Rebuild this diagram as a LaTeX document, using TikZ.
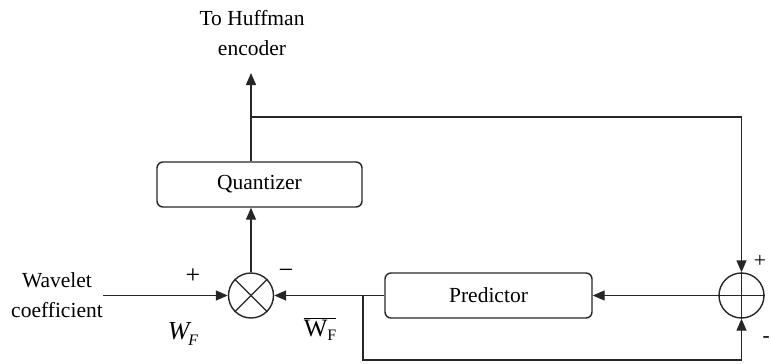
\documentclass[tikz,border=0pt]{standalone}
\usepackage{fontspec}
\setmainfont{Liberation Serif}
\usetikzlibrary{arrows.meta}
\begin{document}
\begin{tikzpicture}[x=1pt,y=-1pt,
  line/.style={line width=1.4pt, draw=black!85},
  arr/.style={line, -{Triangle[length=12pt,width=10pt]}},
  blockbox/.style={line, rounded corners=6pt, minimum width=205pt, minimum height=45pt, inner sep=0pt, font=\fontsize{21.5}{25}\selectfont},
  junction/.style={line, circle, minimum size=45pt, inner sep=0pt},
  lbl/.style={font=\fontsize{21.5}{30}\selectfont, inner sep=0pt, align=center},
  sign/.style={font=\fontsize{26}{26}\selectfont, inner sep=0pt}]
\useasboundingbox (0,0) rectangle (771,364);
% nodes
\node[lbl] (huff) at (252,33) {To Huffman\\encoder};
\node[blockbox] (quant) at (259.5,184.5) {Quantizer};
\node[junction] (mult) at (251,295.5) {};
\node[blockbox, minimum width=207pt] (pred) at (488.5,295.5) {Predictor};
\node[junction] (add) at (741.5,295.5) {};
\node[lbl] (wav) at (57,295) {Wavelet\\coefficient};
\node[lbl] (wf) at (183,334) {\fontsize{26}{26}\selectfont\itshape W\kern-1pt\raisebox{-0.45ex}{\fontsize{16}{16}\selectfont F}};
\node[lbl] (wfbar) at (320,329) {$\overline{\hbox{\fontsize{25}{25}\selectfont W\raisebox{-0.35ex}{\fontsize{16}{16}\selectfont F}}}$};
\node[sign] (pm) at (193,276) {+};
\node[sign] (mm) at (286,274) {\textminus};
\node[lbl] (pa) at (760,261) {+};
\node[lbl, anchor=east] (ma) at (770,340) {-};
% junction symbols
\draw[line] (mult.north west) -- (mult.south east);
\draw[line] (mult.north east) -- (mult.south west);
\draw[line] (add.north) -- (add.south);
\draw[line] (add.west) -- (add.east);
% coordinates
\coordinate (top) at (251,73);
\coordinate (br) at (251,117);
\coordinate (in) at (103,295.5);
\coordinate (b1) at (363,295.5);
\coordinate (bl) at (363,360);
% connectors
\draw[arr] (mult.north) -- (mult.north |- quant.south);
\draw[arr] (top |- quant.north) -- (top);
\draw[arr] (br) -| (add.north);
\draw[arr] (in) -- (mult.west);
\draw[arr] (pred.west) -- (mult.east);
\draw[arr] (add.west) -- (pred.east);
\draw[arr] (b1) -- (bl) -| (add.south);
\end{tikzpicture}
\end{document}
